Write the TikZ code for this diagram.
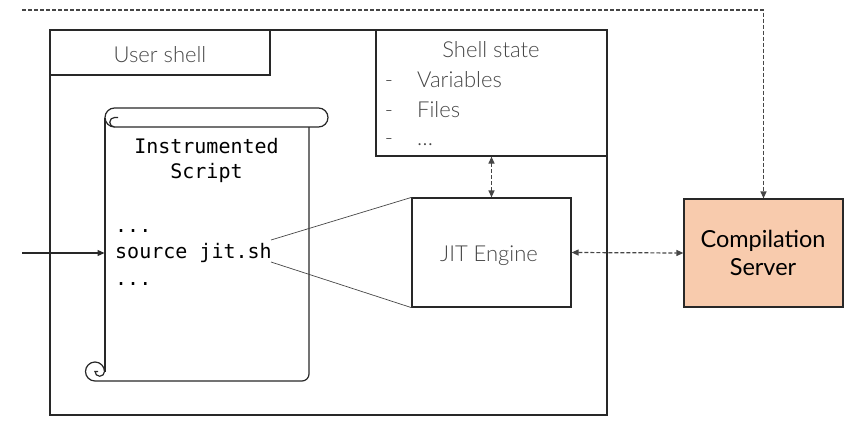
\documentclass[tikz,border=0pt]{standalone}
\usepackage{fontspec}
\setmainfont{Lato}
\newfontfamily\lightf{Lato Light}
\setmonofont{DejaVu Sans Mono}
\usetikzlibrary{arrows.meta}
\definecolor{linec}{RGB}{40,40,40}
\definecolor{txtc}{RGB}{70,70,70}
\definecolor{dashc}{RGB}{70,70,70}
\definecolor{csfill}{RGB}{248,203,173}
\tikzset{
  boxs/.style={draw=linec, line width=1.2pt, inner sep=0pt},
  lbl/.style={inner sep=0pt, anchor=base, text=txtc, font=\lightf\fontsize{22}{26}\selectfont},
  mono/.style={inner sep=0pt, anchor=base, text=black, font=\ttfamily\fontsize{20}{24}\selectfont},
  tip/.style={-{Triangle[length=7pt,width=6pt]}},
  dtip/.style={{Triangle[length=7pt,width=6pt]}-{Triangle[length=7pt,width=6pt]}},
  dash line/.style={draw=dashc, line width=1.2pt, dash pattern=on 4pt off 2pt},
}
\begin{document}
\begin{tikzpicture}[x=1pt,y=-1pt]
\useasboundingbox (0,0) rectangle (854,421);
% outer user shell
\node[boxs, minimum width=557pt, minimum height=385pt] (shell) at (328.5,222.5) {};
\node[boxs, minimum width=220pt, minimum height=45pt] (usertab) at (160,52.5) {};
\node[lbl] (usertxt) at (160,62) {User shell};
% shell state
\node[boxs, minimum width=231pt, minimum height=126pt] (state) at (491.5,93) {};
\node[lbl] (statetitle) at (491,57) {Shell state};
\node[lbl] (d1) at (389,87) {-};
\node[lbl] (d2) at (389,117) {-};
\node[lbl] (d3) at (389,145) {-};
\node[lbl, anchor=base west] (v1) at (417,87) {Variables};
\node[lbl, anchor=base west] (v2) at (417,117) {Files};
\node[lbl, anchor=base west] (v3) at (417,145) {\dots};
% JIT engine
\node[boxs, minimum width=159pt, minimum height=109pt] (jit) at (491.5,252.5) {};
\node[lbl] (jittxt) at (489,261) {JIT Engine};
% compilation server
\node[boxs, fill=csfill, minimum width=159pt, minimum height=108pt] (cs) at (763.5,253) {};
\node[lbl, text=black, font=\fontsize{23.5}{28}\selectfont] (cs1) at (763,247) {Compilation};
\node[lbl, text=black, font=\fontsize{23.5}{28}\selectfont] (cs2) at (763,275) {Server};
% scroll
\draw[linec, line width=1.2pt, rounded corners=9.5pt] (105,108) rectangle (328,127);
\draw[linec, line width=1.2pt] (114.5,127) arc (90:270:4.75) -- (118,117.5);
\draw[linec, line width=1.2pt] (105,117.5) -- (105,371.5);
\draw[linec, line width=1.2pt, rounded corners=7pt] (309,127) -- (309,381) -- (95,381);
\draw[linec, line width=1.2pt] (95,381) arc (90:360:9.5) arc (0:180:4.75) -- (98,371.5);
\coordinate (scrollin) at (104.5,253);
\node[mono] (t1) at (206.5,153) {Instrumented};
\node[mono] (t2) at (206.5,178) {Script};
\node[mono, anchor=base west] (l1) at (115,232) {...};
\node[mono, anchor=base west] (src) at (115,258) {source jit.sh};
\node[mono, anchor=base west] (l3) at (115,285) {...};
% connectors
\coordinate (inarrow) at (22,253);
\draw[linec, line width=1.2pt, tip] (inarrow) -- (scrollin);
\coordinate (srcup) at (271,240);
\coordinate (srcdn) at (271,262);
\draw[dashc, line width=0.7pt] (srcup) -- (jit.north west);
\draw[dashc, line width=0.7pt] (srcdn) -- (jit.south west);
\draw[dash line, dtip] (state.south) -- (jit.north);
\draw[dash line, dtip] (jit.east) -- (cs.west);
\coordinate (topleft) at (22,10);
\draw[dash line, tip] (topleft) -- (cs.north |- topleft) -- (cs.north);
\end{tikzpicture}
\end{document}
